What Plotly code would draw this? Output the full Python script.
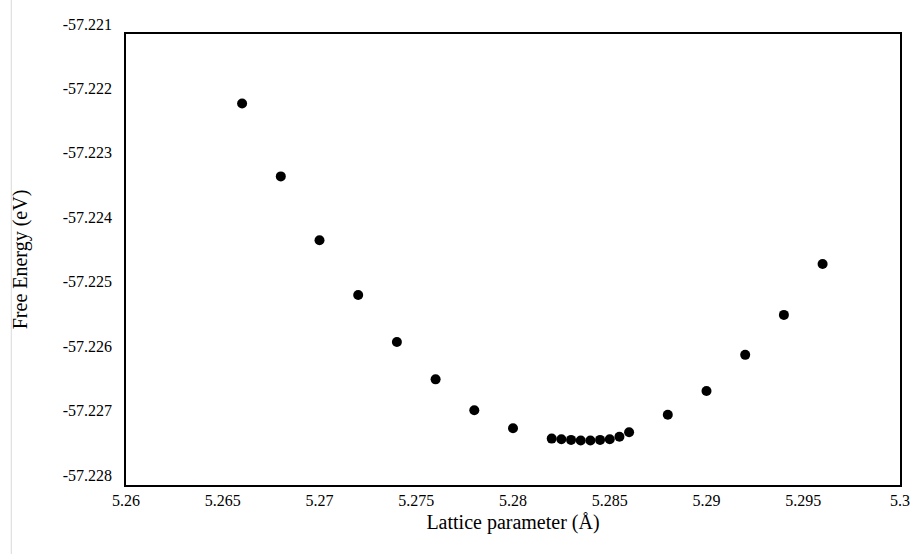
import plotly.graph_objects as go

# Lattice parameter (Å) and computed free energy (eV)
lattice = [5.266, 5.268, 5.270, 5.272, 5.274, 5.276, 5.278, 5.280,
           5.282, 5.2825, 5.283, 5.2835, 5.284, 5.2845, 5.285, 5.2855, 5.286,
           5.288, 5.290, 5.292, 5.294, 5.296]
free_energy = [-57.22208, -57.22321, -57.22420, -57.22505, -57.22578, -57.22636,
               -57.22684, -57.22712,
               -57.22728, -57.22729, -57.22730, -57.22731, -57.22731, -57.22730,
               -57.22729, -57.22725, -57.22718,
               -57.22691, -57.22654, -57.22598, -57.22536, -57.22457]

x_ticks = [5.26, 5.265, 5.27, 5.275, 5.28, 5.285, 5.29, 5.295, 5.3]
x_tick_text = ["5.26", "5.265", "5.27", "5.275", "5.28", "5.285", "5.29", "5.295", "5.3"]
y_ticks = [-57.228, -57.227, -57.226, -57.225, -57.224, -57.223, -57.222, -57.221]
y_tick_text = ["-57.228", "-57.227", "-57.226", "-57.225", "-57.224", "-57.223", "-57.222", "-57.221"]

W, H = 922, 554
ML, MR, MT, MB = 126, 20, 34, 69
serif = "Times New Roman, Liberation Serif, serif"
tick_font = dict(family=serif, size=16, color="black")
title_font = dict(family=serif, size=20, color="black")

fig = go.Figure()
fig.add_trace(go.Scatter(
    x=lattice, y=free_energy, mode="markers",
    marker=dict(color="black", size=10, line=dict(width=0)),
    showlegend=False,
))

fig.update_xaxes(
    range=[5.26, 5.3], tickmode="array", tickvals=x_ticks, ticktext=x_tick_text,
    tickfont=tick_font,
    title=dict(text="Lattice parameter (Å)", font=title_font, standoff=7),
    showline=True, linecolor="black", linewidth=1.5, mirror=True,
    showgrid=False, zeroline=False, ticks="",
)
fig.update_yaxes(
    range=[-57.228, -57.221], tickmode="array", tickvals=y_ticks, ticktext=y_tick_text,
    tickfont=tick_font, ticklabelshift=-10, ticklabelstandoff=9,
    title=dict(text="Free Energy (eV)", font=title_font, standoff=30),
    showline=True, linecolor="black", linewidth=1.5, mirror=True,
    showgrid=False, zeroline=False, ticks="",
)

# thin light-grey rule down the left edge of the page
fig.add_shape(
    type="line", xref="paper", yref="paper",
    x0=(11 - ML) / (W - ML - MR), x1=(11 - ML) / (W - ML - MR),
    y0=-MB / (H - MT - MB), y1=1 + MT / (H - MT - MB),
    line=dict(color="#d9d9d9", width=1),
)

fig.update_layout(
    width=W, height=H,
    margin=dict(l=ML, r=MR, t=MT, b=MB),
    paper_bgcolor="white", plot_bgcolor="white",
    font=dict(family=serif, color="black"),
)

fig.write_html("out.html")
